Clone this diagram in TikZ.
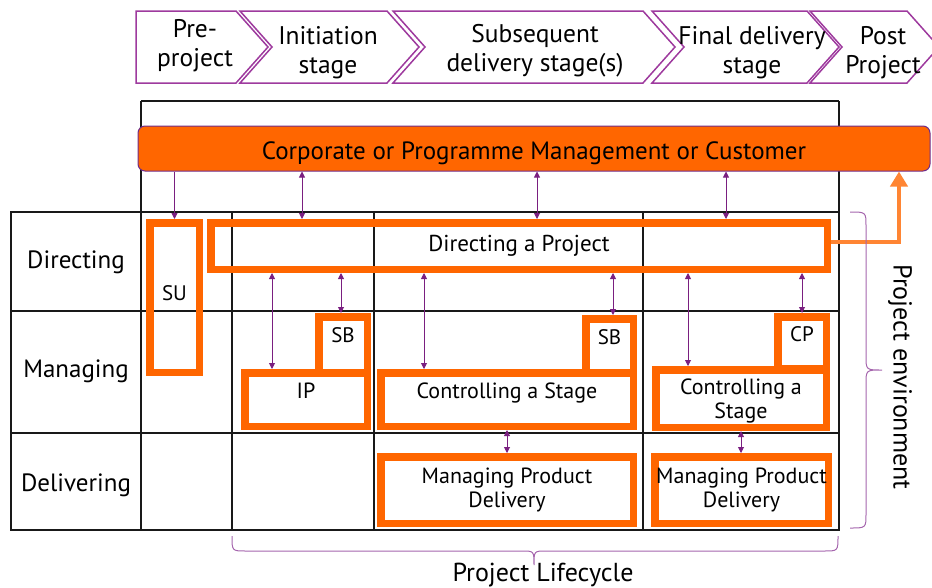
\documentclass[tikz,border=0pt]{standalone}
\usepackage{fontspec}
\setmainfont{PT Sans}
\usetikzlibrary{arrows.meta}
\definecolor{pmorange}{HTML}{FF6600}
\definecolor{fborange}{HTML}{FF8533}
\definecolor{linkpurple}{HTML}{7A1F80}
\definecolor{chevpurple}{HTML}{9E3A9E}
\definecolor{bracepurple}{HTML}{A565AD}
\definecolor{bandpurple}{HTML}{6E2C8C}

\begin{document}
\begin{tikzpicture}[x=1pt, y=-1pt,
		chev/.style={draw=chevpurple, line width=1.5pt},
		phase/.style={align=center, font=\fontsize{25.5}{29}\selectfont},
		tab/.style={line width=1.2pt, black!90},
		band/.style={draw=bandpurple, line width=1pt, fill=pmorange, rounded corners=7pt,
			font=\fontsize{25}{29}\selectfont, text height=21pt, text depth=0pt},
		obox/.style={draw=pmorange, line width=7.5pt, align=center, inner sep=0pt,
			font=\fontsize{22}{24}\selectfont},
		tag/.style={obox, font=\fontsize{21}{24}\selectfont},
		lift/.style={text depth=#1},
		rowlabel/.style={anchor=base, font=\fontsize{25}{29}\selectfont},
		bigtext/.style={font=\fontsize{26}{30}\selectfont},
		link/.style={linkpurple, line width=.9pt,
			{Triangle[length=6pt,width=6pt]}-{Triangle[length=6pt,width=6pt]}},
		onedir/.style={linkpurple, line width=.9pt, -{Triangle[length=6pt,width=6pt]}},
		feedback/.style={fborange, line width=4pt, -{Triangle[length=15pt,width=17pt]}},
		brc/.style={bracepurple, line width=1pt}
	]
	\useasboundingbox (0,0) rectangle (932,587);

	% stages along the top
	\foreach \l/\r/\n/\tx/\ty/\txt [count=\i] in {136/236/0/195/46/{Pre-\\project},
		240/387/32/328/53/{Initiation\\stage},
		393/643/32/535/51/{Subsequent\\delivery stage(s)},
		652/807/32/752/53/{Final delivery\\stage},
		810/907/32/883/53/{Post\\Project}}{
		\draw[chev] (\l,11) -- (\r,11) -- (\r+32,47) -- (\r,83) -- (\l,83) -- (\l+\n,47) -- cycle;
		\node[phase] (ph\i) at (\tx,\ty) {\txt};
	}

	% table
	\draw[tab] (141,101) -- (839,101);
	\draw[tab] (141,101) -- (141,530);
	\draw[tab] (839,101) -- (839,530);
	\draw[tab] (11,212) rectangle (839,530);
	\foreach \y in {311,433} \draw[tab] (11,\y) -- (839,\y);
	\foreach \x in {232,374,643} \draw[tab] (\x,212) -- (\x,530);

	\node[rowlabel] (dir) at (76,268) {Directing};
	\node[rowlabel] (man) at (76,377) {Managing};
	\node[rowlabel] (del) at (76,491) {Delivering};

	\node[band, minimum width=792pt, minimum height=45pt] (band) at (534,148.5)
		{Corporate or Programme Management or Customer};

	% processes
	\node[tag, minimum width=49.5pt, minimum height=149.5pt, lift=8pt] (su) at (174.5,297.5) {SU};
	\node[obox, font=\fontsize{23}{26}\selectfont, minimum width=616.5pt, minimum height=46.5pt] (dp) at (519,246) {Directing a Project};
	\node[tag, minimum width=48.5pt, minimum height=55.5pt, lift=19pt] (sb1) at (343,344.5) {SB};
	\node[obox, minimum width=122.5pt, minimum height=53.5pt, lift=17pt] (ip) at (306,399.5) {IP};
	\node[tag, minimum width=47.5pt, minimum height=53.5pt, lift=17pt] (sb2) at (609.5,345.5) {SB};
	\node[obox, minimum width=252.5pt, minimum height=53.5pt, lift=17pt] (cs2) at (507,399.5) {Controlling a Stage};
	\node[obox, minimum width=252.5pt, minimum height=66.5pt] (mpd1) at (507,490) {Managing Product\\Delivery};
	\node[tag, minimum width=48.5pt, minimum height=51.5pt, lift=17pt] (cp) at (802,342.5) {CP};
	\node[obox, minimum width=170.5pt, minimum height=57.5pt, lift=-6pt] (cs3) at (741,398.5) {Controlling a\\Stage};
	\node[obox, minimum width=173.5pt, minimum height=66.5pt] (mpd2) at (741.5,490) {Managing Product\\Delivery};

	% links
	\draw[onedir] (band.south -| su.north) -- (su.north);
	\foreach \x in {302,537,726} \draw[link] (band.south -| \x,0) -- (dp.north -| \x,0);
	\draw[link] (dp.south -| 272,0) -- (ip.north -| 272,0);
	\draw[link] (dp.south -| 341,0) -- (sb1.north -| 341,0);
	\draw[link] (dp.south -| 424,0) -- (cs2.north -| 424,0);
	\draw[link] (dp.south -| 613,0) -- (sb2.north -| 613,0);
	\draw[link] (dp.south -| 688,0) -- (cs3.north -| 688,0);
	\draw[link] (dp.south -| cp.north) -- (cp.north);
	\draw[link] (cs2.south) -- (mpd1.north);
	\draw[link] (cs3.south) -- (mpd2.north -| cs3.south);
	\draw[feedback] ([yshift=4pt]dp.east) -| (band.south -| 899,0);

	% braces
	\draw[brc] (850,212) .. controls (866,212) .. (866,226) -- (866,356)
		.. controls (866,370) .. (882,370) .. controls (866,370) .. (866,384) -- (866,514)
		.. controls (866,528) .. (850,528);
	\draw[brc] (232,536) .. controls (232,551) .. (246,551) -- (522,551)
		.. controls (534,551) .. (534,565) .. controls (534,551) .. (546,551) -- (824,551)
		.. controls (838,551) .. (838,536);
	\node[bigtext, rotate=-90] (env) at (900,377) {Project environment};
	\node[bigtext] (life) at (543,575) {Project Lifecycle};
\end{tikzpicture}
\end{document}
